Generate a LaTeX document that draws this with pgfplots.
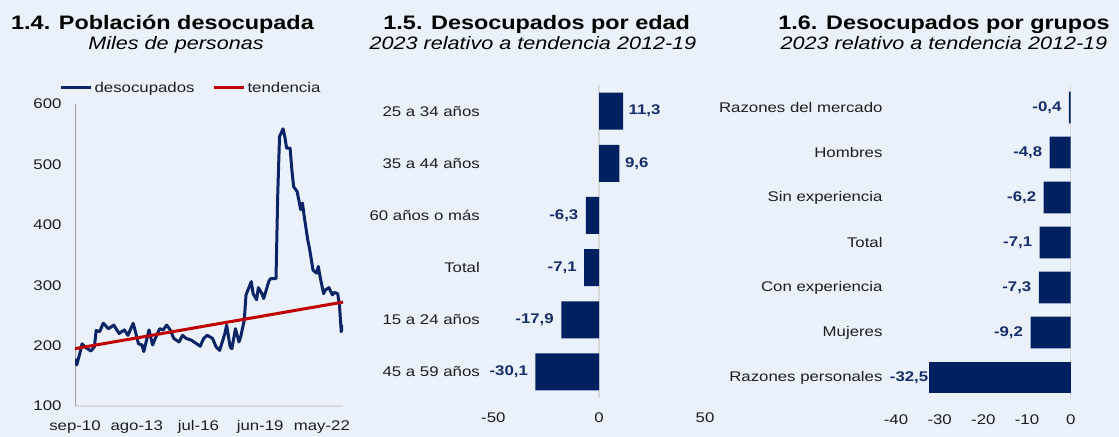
\documentclass[border=0pt]{standalone}
\usepackage{fontspec}
\setmainfont{Liberation Sans}[FakeStretch=1.2]
\usepackage{pgfplots}
\pgfplotsset{compat=1.18}
\definecolor{bg}{RGB}{234,241,251}
\definecolor{navy}{RGB}{0,32,96}
\definecolor{navyline}{RGB}{10,36,102}
\definecolor{lblue}{RGB}{22,45,108}
\definecolor{linered}{RGB}{192,0,0}
\definecolor{axgray}{RGB}{160,160,160}
\definecolor{zgray}{RGB}{214,216,220}
\definecolor{txt}{RGB}{30,30,30}
\newcommand{\fs}{\fontsize{14bp}{16bp}\selectfont}
\pgfplotsset{
  common/.style={
    scale only axis,
    major tick length=0pt,
    tick label style={font=\fs, text=txt},
    /pgf/number format/assume math mode=true,
    xticklabel style={yshift=-11bp},
    yticklabel style={xshift=-10bp},
  },
  barax/.style={
    common,
    xbar, bar width=#1, bar shift=0pt,
    axis line style={draw=none},
    point meta=explicit symbolic,
    nodes near coords,
    nodes near coords style={font=\fs\bfseries, text=lblue},
    y dir=reverse,
    clip=false,
  },
}
\begin{document}
\begin{tikzpicture}
\useasboundingbox (0bp,0bp) rectangle (1119bp,437bp);
\fill[bg] (0bp,0bp) rectangle (1119bp,437bp);
% titles
\node[anchor=base, text=black, font=\fontsize{19.5bp}{22bp}\selectfont\bfseries] at (162.5bp,407bp) {1.4. Población desocupada};
\node[anchor=base, text=black, font=\fontsize{18bp}{20bp}\selectfont\itshape] at (176bp,387bp) {Miles de personas};
\node[anchor=base, text=black, font=\fontsize{19.5bp}{22bp}\selectfont\bfseries] at (536.7bp,407bp) {1.5. Desocupados por edad};
\node[anchor=base, text=black, font=\fontsize{18bp}{20bp}\selectfont\itshape] at (533bp,387bp) {2023 relativo a tendencia 2012-19};
\node[anchor=base, text=black, font=\fontsize{19.5bp}{22bp}\selectfont\bfseries] at (944bp,407bp) {1.6. Desocupados por grupos};
\node[anchor=base, text=black, font=\fontsize{18bp}{20bp}\selectfont\itshape] at (944bp,387bp) {2023 relativo a tendencia 2012-19};

% ---------- Chart 1.4 ----------
\begin{axis}[
  common,
  at={(75bp,31bp)}, anchor=south west,
  width=268bp, height=302bp,
  xmin=0, xmax=152, ymin=100, ymax=600,
  axis x line*=bottom, axis y line*=left,
  x axis line style={zgray, line width=1.2bp},
  y axis line style={axgray, line width=1bp},
  xtick={0,35,70,105,140},
  xticklabels={sep-10,ago-13,jul-16,jun-19,may-22},
  ytick={100,200,300,400,500,600},
  legend columns=2,
  legend style={at={(0.433,1)}, anchor=south, yshift=6bp, draw=none, fill=none,
    font=\fs, text=txt, inner xsep=0pt,
    /tikz/every even column/.append style={column sep=16bp}},
  legend image code/.code={\draw[#1] (0bp,0bp) -- (30bp,0bp);},
]
\addplot[navyline, line width=3bp, line join=round] coordinates {
(0,178) (1,168) (3,190) (4,203) (6,197) (9,191) (11,198) (12,225) (14,223)
(16,237) (19,228) (22,234) (25,220) (28,226) (30,217) (33,237) (35,215)
(36,203) (38,201) (39,190) (42,226) (44,201) (46,215) (48,228) (50,226)
(52,234) (54,226) (56,212) (59,206) (61,217) (63,212) (66,209) (69,203)
(71,199) (73,212) (75,217) (78,212) (80,198) (82,192) (83,201) (85,220)
(86,234) (88,198) (89,195) (91,228) (92,217) (93,206) (94,215) (96,242)
(97,284) (100,306) (101,286) (103,276) (104,296) (106,286) (107,278)
(110,307) (111,311) (114,311) (115,452) (116,546) (118,559) (119,546)
(120,527) (122,527) (123,491) (124,463) (126,455) (128,425) (129,436)
(130,414) (132,375) (133,361) (135,325) (137,320) (138,331) (139,314)
(141,286) (142,292) (144,296) (146,284) (147,288) (149,286) (150,267)
(151,223) (152,234)
};
\addlegendentry{desocupados}
\addplot[linered, line width=3bp] coordinates {(0,195) (152,272)};
\addlegendentry{tendencia}
\end{axis}

% ---------- Chart 1.5 ----------
\begin{axis}[
  barax=37bp,
  at={(493.3bp,39bp)}, anchor=south west,
  width=211.7bp, height=313bp,
  xmin=-50, xmax=50, ymin=-0.5, ymax=5.5,
  xtick={-50,0,50}, ytick={0,1,2,3,4,5},
  yticklabels={25 a 34 años,35 a 44 años,60 años o más,Total,15 a 24 años,45 a 59 años},
]
\draw[zgray, line width=1.5bp] (axis cs:0,-0.5) -- (axis cs:0,5.5);
\addplot[fill=navy, draw=none, every node near coord/.append style={anchor=west, xshift=2bp}]
  coordinates {(11.3,0) [11,3] (9.6,1) [9,6]};
\addplot[fill=navy, draw=none, every node near coord/.append style={anchor=east, xshift=-4bp}]
  coordinates {(-6.3,2) [-6,3] (-7.1,3) [-7,1] (-17.9,4) [-17,9] (-30.1,5) [-30,1]};
\end{axis}

% ---------- Chart 1.6 ----------
\begin{axis}[
  barax=31.7bp,
  at={(896bp,37bp)}, anchor=south west,
  width=174.7bp, height=315bp,
  xmin=-40, xmax=0, ymin=-0.5, ymax=6.5,
  xtick={-40,-30,-20,-10,0}, ytick={0,1,2,3,4,5,6},
  yticklabels={Razones del mercado,Hombres,Sin experiencia,Total,Con experiencia,Mujeres,Razones personales},
]
\draw[zgray, line width=1.5bp] (axis cs:0,-0.5) -- (axis cs:0,6.5);
\addplot[fill=navy, draw=none, every node near coord/.append style={anchor=east, xshift=-4bp}]
  coordinates {(-0.4,0) [-0,4] (-4.8,1) [-4,8] (-6.2,2) [-6,2] (-7.1,3) [-7,1]
  (-7.3,4) [-7,3] (-9.2,5) [-9,2]};
\addplot[fill=navy, draw=none, every node near coord/.append style={anchor=east, xshift=3bp}]
  coordinates {(-32.5,6) [-32,5]};
\end{axis}
\end{tikzpicture}
\end{document}
